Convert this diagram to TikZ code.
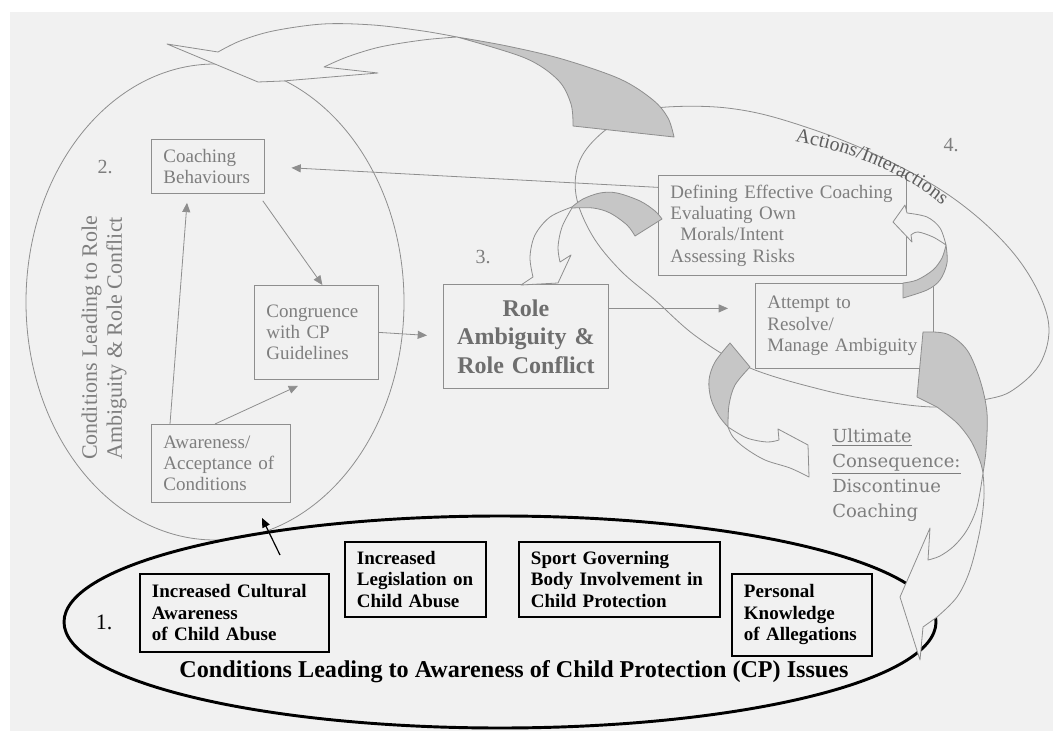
\documentclass[tikz,border=0pt]{standalone}
\usepackage{fontspec}
\setmainfont{Liberation Serif}
\newfontfamily\dejaserif{DejaVu Serif}
\usetikzlibrary{arrows.meta,calc,decorations.text}

\definecolor{bgpaper}{HTML}{F1F1F1}
\definecolor{linegray}{HTML}{8E8E8E}
\definecolor{txtgray}{HTML}{7E7E7E}
\definecolor{rolegray}{HTML}{6E6E6E}
\definecolor{actgray}{HTML}{5E5E5E}
\definecolor{bandgray}{HTML}{C6C6C6}

\begin{document}
\begin{tikzpicture}[x=0.75pt,y=-0.75pt,
  gline/.style={draw=linegray, line width=0.6pt},
  garrow/.style={gline, -{Triangle[length=7pt,width=6pt]}},
  karrow/.style={draw=black, line width=0.9pt, -{Triangle[length=7pt,width=6pt]}},
  gbox/.style={draw=linegray, line width=0.6pt, text=txtgray, align=left,
    inner xsep=9pt, inner ysep=0pt, anchor=north west,
    font=\fontsize{14.25pt}{16pt}\selectfont},
  kbox/.style={draw=black, line width=1.4pt, text=black, align=left,
    inner xsep=9pt, inner ysep=0pt, anchor=north west,
    font=\bfseries\fontsize{14.25pt}{16.1pt}\selectfont},
  band/.style={draw=linegray, line width=0.6pt, fill=bandgray, line join=round},
  bandtop/.style={draw=linegray, line width=0.6pt, fill=bgpaper, line join=round},
  numlabel/.style={text=txtgray, inner sep=0pt, font=\fontsize{15pt}{18pt}\selectfont},
]
\useasboundingbox (0,0) rectangle (1053,731);
% paper
\fill[white] (0,0) rectangle (1053,731);
\fill[bgpaper] (10,12) rectangle (1053,731);

% stage 2: conditions leading to role ambiguity
\draw[gline] (215,302) ellipse [x radius=189, y radius=238];
% stage 4: actions / interactions
\draw[gline] plot[smooth cycle, tension=0.6] coordinates {(576,195) (580,160) (603,132) (635,114) (667,107) (727,108) (787,121) (870,152) (953,198) (1015,255) (1047,315) (1042,360) (1013,390) (983,400) (937,407) (880,401) (823,390) (750,368) (697,337) (655,300) (620,270) (592,235)};
% stage 1: awareness of child protection issues
\draw[black, line width=2.2pt] (500,622) ellipse [x radius=436, y radius=106];

% boxes of stage 2 and 3
\node[gbox, text width=66.75pt, minimum height=40.5pt] (coach) at (151,139) {Coaching\\Behaviours};
\node[gbox, text width=75pt, minimum height=70.5pt] (cong) at (254,285) {Congruence\\with CP\\Guidelines};
\node[gbox, text width=86.25pt, minimum height=58.5pt] (aware) at (151,424) {Awareness/\\Acceptance of\\Conditions};
\node[gbox, text width=105.75pt, minimum height=78pt, align=center, text=rolegray,
  font=\bfseries\fontsize{18pt}{21.4pt}\selectfont] (role) at (443,284) {Role\\Ambiguity \&\\Role Conflict};
\node[gbox, text width=168pt, minimum height=75pt] (define) at (658,175) {Defining Effective Coaching\\Evaluating Own\\\hspace*{7.5pt}Morals/Intent\\Assessing Risks};
\node[gbox, text width=115.5pt, minimum height=63.75pt] (attempt) at (755,283) {Attempt to\\Resolve/\\Manage Ambiguity};

% boxes of stage 1
\node[kbox, text width=123.75pt, minimum height=58.5pt] (cult) at (139,573) {Increased Cultural\\Awareness\\of Child Abuse};
\node[kbox, text width=87.75pt, minimum height=56.25pt] (legis) at (344,541) {Increased\\Legislation on\\Child Abuse};
\node[kbox, text width=132.75pt, minimum height=56.25pt] (sport) at (518,541) {Sport Governing\\Body Involvement in\\Child Protection};
\node[kbox, text width=87pt, minimum height=61.5pt] (pers) at (731,573) {Personal\\Knowledge\\of Allegations};

% labels
\node[numlabel] (n2) at (105,167) {2.};
\node[numlabel] (n3) at (483,257) {3.};
\node[numlabel] (n4) at (951,145) {4.};
\node[inner sep=0pt, font=\fontsize{16.5pt}{18pt}\selectfont] (n1) at (104,622) {1.};
\node[inner sep=0pt, font=\bfseries\fontsize{18.1pt}{22pt}\selectfont] (title) at (514,672)
  {Conditions Leading to Awareness of Child Protection (CP) Issues};
\node[rotate=90, anchor=west, align=left, text=txtgray, inner sep=0pt,
  font=\fontsize{16.5pt}{18.75pt}\selectfont] (cond2) at (104,460)
  {Conditions Leading to Role\\Ambiguity \& Role Conflict};
\node[anchor=north west, align=left, inner sep=0pt, text=txtgray,
  font=\dejaserif\fontsize{13.5pt}{18.75pt}\selectfont] (ult) at (832,429)
  {\underline{Ultimate}\\\underline{Consequence:}\\Discontinue\\Coaching};
\path[decorate, decoration={text along path, text align=left,
  text={|\color{actgray}\fontsize{15pt}{18pt}\selectfont|Actions/Interactions}}]
  (795,142) .. controls (862,153) and (918,180) .. (956,218);

% connectors
\draw[garrow, shorten >=20pt] (define.163) -- (coach.east);
\draw[garrow] ($(coach.south east)+(-2,7)$) -- ($(cong.north)+(6,0)$);
\draw[garrow] ($(aware.north west)+(19,0)$) -- ($(coach.south west)+(36,9)$);
\draw[garrow] ($(aware.north west)+(64,0)$) -- ($(cong.south west)+(44,6)$);
\draw[garrow, shorten >=12pt] (cong.east) -- (role.west);
\draw[garrow] ($(role.east)+(0,-28)$) -- ($(attempt.west)+(-27,-17.5)$);
\coordinate (kstart) at (280,555);
\coordinate (kend) at (262,518);
\draw[karrow] (kstart) -- (kend);

% large curved arrow over the top, back to the start
\filldraw[band] plot[smooth, tension=0.55] coordinates {(457,37) (507,46) (562,59) (620,79) (653,100) (668,118) (674,137)}
  -- (573,126)
  -- plot[smooth, tension=0.55] coordinates {(573,126) (571,104) (558,80) (525,58) (457,37)} -- cycle;
\filldraw[bandtop] plot[smooth, tension=0.55] coordinates {(457,37) (423,31) (373,25) (323,24) (273,31) (240,41) (218,52)}
  -- (167,44) -- (258,82) -- (283,81) -- (378,73) -- (324,67)
  -- plot[smooth, tension=0.55] coordinates {(324,67) (347,57) (380,47) (423,40) (457,37)} -- cycle;

% curved arrow into the role box
\filldraw[band] plot[smooth, tension=0.55] coordinates {(572,207) (583,199) (600,193) (617,193) (640,201) (655,211) (662,219)}
  -- (635,236)
  -- plot[smooth, tension=0.55] coordinates {(635,236) (627,225) (610,213) (593,208) (572,208)} -- cycle;
\filldraw[bandtop] plot[smooth, tension=0.55] coordinates {(572,207) (550,217) (535,235) (530,257) (533,277)}
  -- (521,285) -- (558,283) -- (571,255) -- (560,262)
  -- plot[smooth, tension=0.55] coordinates {(560,262) (558,247) (562,227) (572,208)} -- cycle;

% curved arrow from the attempt box back to the defining box
\filldraw[bandtop] (893,222) -- (905,205) -- (907,213)
  -- plot[smooth, tension=0.55] coordinates {(907,213) (927,217) (940,228) (946,245)}
  -- plot[smooth, tension=0.55] coordinates {(946,245) (933,237) (918,232) (911,235)}
  -- (912,242) -- cycle;
\filldraw[band] plot[smooth, tension=0.55] coordinates {(946,245) (947,263) (940,280) (927,290) (903,298)}
  -- (903,283)
  -- plot[smooth, tension=0.55] coordinates {(903,283) (917,280) (933,270) (942,258) (946,245)} -- cycle;

% curved arrow towards the ultimate consequence
\filldraw[band] (730,343) -- (750,367)
  -- plot[smooth, tension=0.55] coordinates {(750,367) (735,385) (729,405) (728,427)}
  -- plot[smooth, tension=0.55] coordinates {(728,427) (719,416) (711,399) (709,380) (715,362) (730,343)} -- cycle;
\filldraw[bandtop] plot[smooth, tension=0.55] coordinates {(728,427) (747,438) (767,442) (779,440)}
  -- (778,429) -- (808,445) -- (809,477)
  -- plot[smooth, tension=0.55] coordinates {(809,477) (790,468) (765,460) (745,448) (733,437) (728,427)} -- cycle;

% curved arrow down into stage 1
\filldraw[band] (923,332)
  -- plot[smooth, tension=0.55] coordinates {(923,332) (947,334) (967,350) (980,380) (987,413) (986,450) (983,473)}
  -- plot[smooth, tension=0.55] coordinates {(983,473) (980,461) (971,441) (957,423) (937,407)}
  -- (917,397) -- cycle;
\filldraw[bandtop] plot[smooth, tension=0.55] coordinates {(983,473) (984,497) (980,530) (970,570) (957,597) (937,617)}
  -- (923,627) -- (920,660) -- (900,597) -- (930,528) -- (928,560)
  -- plot[smooth, tension=0.55] coordinates {(928,560) (940,556) (954,546) (967,530) (977,507) (983,473)} -- cycle;
\end{tikzpicture}
\end{document}
